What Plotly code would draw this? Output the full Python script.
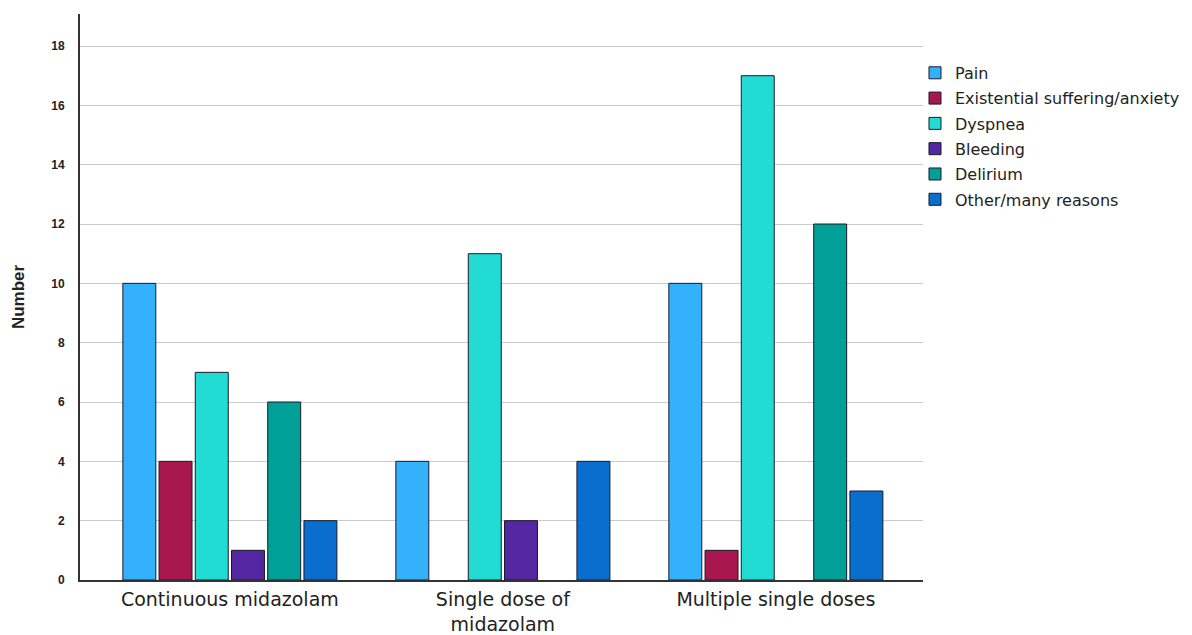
import plotly.graph_objects as go

categories = ["Continuous midazolam", "Single dose of<br>midazolam", "Multiple single doses"]
series_names = ["Pain", "Existential suffering/anxiety", "Dyspnea", "Bleeding", "Delirium", "Other/many reasons"]
pain = [10, 4, 10]
existential = [4, None, 1]
dyspnea = [7, 11, 17]
bleeding = [1, 2, None]
delirium = [6, None, 12]
other = [2, 4, 3]
colors = ["#34b1fb", "#a8174f", "#22dcd4", "#5426a2", "#00a099", "#0a6ecf"]
y_ticks = [0, 2, 4, 6, 8, 10, 12, 14, 16, 18]

series = [pain, existential, dyspnea, bleeding, delirium, other]

fig = go.Figure()
for name, vals, col in zip(series_names, series, colors):
    fig.add_trace(go.Bar(
        x=categories, y=vals, name=name,
        marker=dict(color=col, line=dict(color="#1a1a2a", width=1)),
        legendgroup=name,
    ))

fig.update_layout(
    width=1185, height=628,
    paper_bgcolor="white", plot_bgcolor="white",
    barmode="group", bargap=0.204, bargroupgap=0.09,
    margin=dict(l=72, r=270, t=6, b=56),
    font=dict(family="Arial, Liberation Sans, sans-serif", color="#222"),
    legend=dict(x=0.9905, y=0.926, xanchor="left", yanchor="top",
                font=dict(size=16, color="#222", family="DejaVu Sans, sans-serif"),
                tracegroupgap=1.5, bgcolor="rgba(0,0,0,0)"),
    showlegend=True,
)
fig.update_xaxes(
    range=[-0.549, 2.539], showline=True, linecolor="#333", linewidth=2,
    showgrid=False, ticks="", automargin=False,
    tickfont=dict(size=19, color="#222", family="DejaVu Sans, sans-serif"),
    ticklabelstandoff=1,
)
fig.update_yaxes(
    range=[0, 19.08], tickvals=y_ticks, showline=True, linecolor="#333", linewidth=2,
    showgrid=True, gridcolor="#cbcbcb", gridwidth=1, zeroline=False, automargin=False,
    tickfont=dict(size=12, color="#222", weight="bold", family="Arial, Liberation Sans, sans-serif"),
    ticklabelstandoff=11,
    title=dict(text="<b>Number</b>", font=dict(size=17, color="#222"), standoff=22),
)
fig.write_html("out.html")
